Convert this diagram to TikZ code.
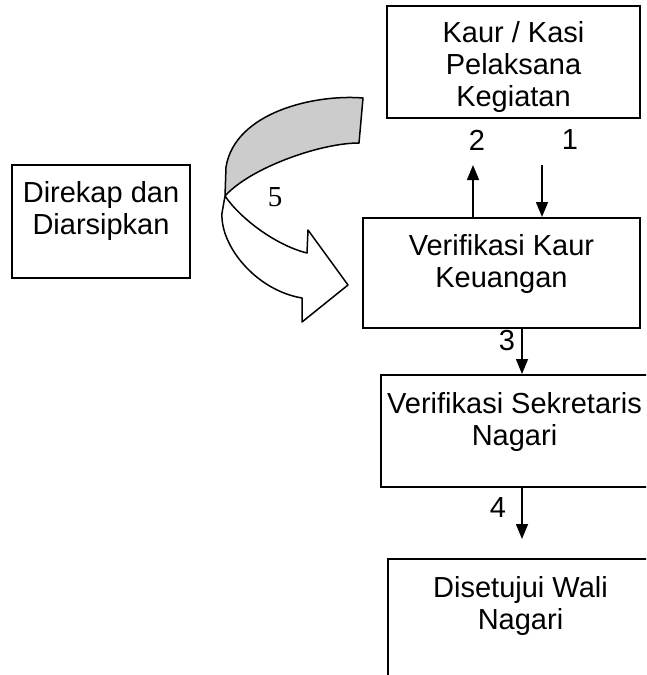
\documentclass[tikz,border=0pt]{standalone}
\usepackage{fontspec}
\setmainfont{Liberation Sans}
\newfontfamily\serifnum{Liberation Serif}
\usetikzlibrary{arrows.meta, calc, positioning}

\begin{document}
\begin{tikzpicture}[
		x=1pt, y=-1pt,
		box/.style={draw, line width=1.5pt, inner sep=0pt, align=center, anchor=north,
			font=\fontsize{29}{32}\selectfont},
		num/.style={inner sep=0pt, font=\fontsize{29}{32}\selectfont},
		flow/.style={-{Triangle[length=15pt, width=12pt]}, line width=1.5pt},
		band/.style={draw, line width=1.5pt, line join=round},
		]
	\useasboundingbox (0,0) rectangle (646,675);
	\clip (0,0) rectangle (646,675);

	% --- Kotak alur ---
	\node[box, minimum width=253pt, text height=101pt, text depth=11pt] (kaur) at (513.5,5)
		{Kaur / Kasi\\Pelaksana\\Kegiatan};
	\node[box, minimum width=277pt, text height=70pt, text depth=40pt] (keu) at (501.5,217)
		{Verifikasi Kaur\\Keuangan};
	\node[box, minimum width=267pt, text height=71pt, text depth=41pt] (sek) at (514.5,374)
		{Verifikasi Sekretaris\\Nagari};
	\node[box, minimum width=265pt, text height=71pt, text depth=70pt] (wali) at (520.5,558)
		{Disetujui Wali\\Nagari};
	\node[box, minimum width=178pt, text height=70pt, text depth=43pt] (rekap) at (101,164)
		{Direkap dan\\Diarsipkan};

	% --- Nomor langkah ---
	\node[num] (n2) at (477,140) {2};
	\node[num] (n1) at (570,140) {1};
	\node[num] (n3) at (507,341) {3};
	\node[num] (n4) at (498,508) {4};
	\node[num, font=\serifnum\fontsize{29}{32}\selectfont] (n5) at (275,197) {5};

	% --- Panah ---
	\coordinate (k1) at (542,165);
	\coordinate (k2) at (473,165);
	\coordinate (w4) at (522,539);
	\draw[flow] (k1) -- (k1 |- keu.north);
	\draw[flow] (k2 |- keu.north) -- (k2);
	\draw[flow] ([xshift=20.5pt]keu.south) -- ([xshift=20.5pt]keu.south |- sek.north);
	\draw[flow] (w4 |- sek.south) -- (w4);

	% --- Panah melengkung (5) ---
	\draw[band, fill=white] (225,196) -- (222,213) .. controls (220,245) and (255,290) .. (302,298)
		-- (302,322) -- (348,285) -- (308,230) -- (307,253)
		.. controls (275,245) and (240,218) .. (225,196);
	\draw[band, fill=black!20] (363,98) .. controls (315,94) and (235,112) .. (226,167)
		-- (225,196) .. controls (250,168) and (320,143) .. (359,143) -- cycle;

\end{tikzpicture}
\end{document}
